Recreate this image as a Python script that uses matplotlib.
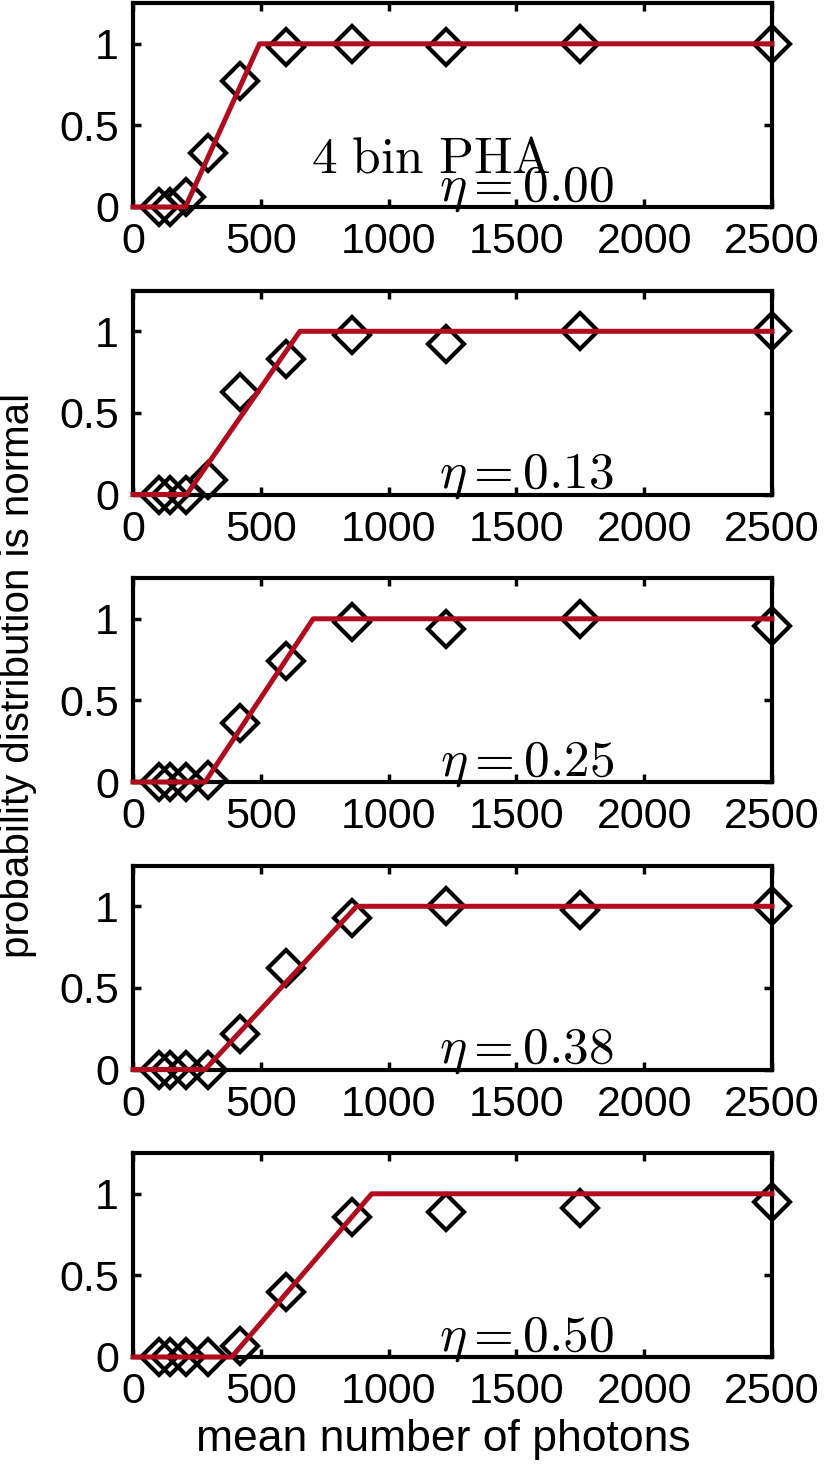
import numpy as np
import matplotlib
matplotlib.use("Agg")
import matplotlib.pyplot as plt

plt.rcParams['font.family'] = ['Liberation Sans', 'DejaVu Sans']
plt.rcParams['mathtext.fontset'] = 'cm'

# mean number of photons (same for every panel)
photons = [101, 144, 206, 294, 420, 600, 858, 1225, 1750, 2500]

# fraction judged normal, one list per eta
etas = ["0.00", "0.13", "0.25", "0.38", "0.50"]
p_eta000 = [0.0, 0.0, 0.06, 0.33, 0.77, 0.98, 1.0, 0.98, 1.0, 1.0]
p_eta013 = [0.0, 0.0, 0.0, 0.09, 0.63, 0.83, 0.98, 0.92, 1.0, 1.0]
p_eta025 = [0.0, 0.0, 0.0, 0.01, 0.36, 0.74, 0.98, 0.94, 1.0, 0.955]
p_eta038 = [0.0, 0.0, 0.0, 0.0, 0.22, 0.62, 0.93, 1.0, 0.98, 1.0]
p_eta050 = [0.0, 0.0, 0.0, 0.0, 0.07, 0.40, 0.855, 0.89, 0.91, 0.95]
probs = [p_eta000, p_eta013, p_eta025, p_eta038, p_eta050]

# piecewise-linear fit: 0 up to fit_start, 1 from fit_end on
fit_start = [205, 210, 282, 282, 386]
fit_end = [495, 653, 705, 875, 934]

red = "#b00c1e"

fig = plt.figure(figsize=(8.24, 14.76), dpi=100)
W, H = 824.0, 1476.0

for i in range(5):
    bottom_px = 207 + 287.5 * i
    ax = fig.add_axes([133 / W, 1 - bottom_px / H, 639 / W, 204 / H])

    ax.plot(photons, probs[i], linestyle='none', marker='D', markersize=18,
            markerfacecolor='none', markeredgecolor='black', markeredgewidth=3.0,
            clip_on=False, zorder=3)
    ax.plot([0, fit_start[i], fit_end[i], 2500], [0, 0, 1, 1], color=red,
            linewidth=3.6, solid_joinstyle='round', clip_on=False, zorder=4)

    ax.set_xlim(0, 2500)
    ax.set_ylim(0, 1.25)
    ax.set_xticks([0, 500, 1000, 1500, 2000, 2500])
    ax.set_yticks([0, 0.5, 1])
    ax.set_yticklabels(["0", "0.5", "1"])
    ax.tick_params(direction='in', length=6, width=2.5, labelsize=31,
                   top=True, right=True)
    ax.tick_params(axis='x', pad=11)
    ax.tick_params(axis='y', pad=10)
    for s in ax.spines.values():
        s.set_linewidth(3)

    ax.text(1540, 0.04, r"$\eta = %s$" % etas[i], fontsize=37,
            ha='center', va='baseline')
    if i == 0:
        ax.text(1165, 0.21, r"$\mathrm{4\ bin\ PHA}$", fontsize=37,
                ha='center', va='baseline')

fig.text(18 / W, 1 - 675 / H, "probability distribution is normal",
         rotation=90, ha='center', va='center', fontsize=29)
fig.text(443 / W, 1 - 1440 / H, "mean number of photons",
         ha='center', va='center', fontsize=32)

fig.savefig("out.png", dpi=100)
